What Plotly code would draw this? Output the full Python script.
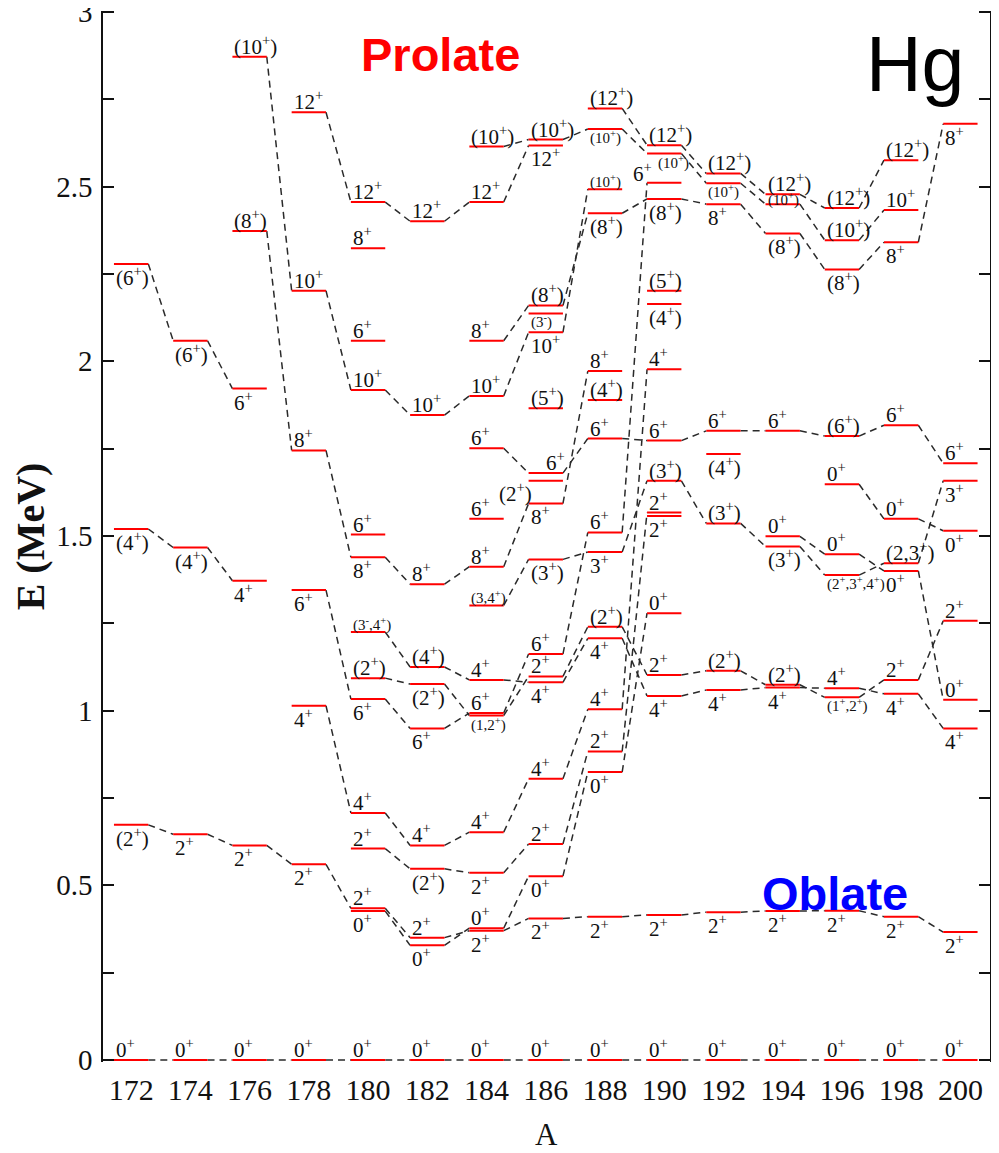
import plotly.graph_objects as go

# ---------------- data ----------------
# levels per isotope: (energy MeV, spin label, label placement)
hg172 = [(0.0, "0+", "a"), (0.673, "(2+)", "b"), (1.520, "(4+)", "b"), (2.279, "(6+)", "b")]
hg174 = [(0.0, "0+", "a"), (0.646, "2+", "b"), (1.467, "(4+)", "b"), (2.059, "(6+)", "b")]
hg176 = [(0.0, "0+", "a"), (0.614, "2+", "b"), (1.372, "4+", "b"), (1.922, "6+", "b"),
         (2.373, "(8+)", "a"), (2.872, "(10+)", "a")]
hg178 = [(0.0, "0+", "a"), (0.560, "2+", "b"), (1.014, "4+", "b"), (1.345, "6+", "b"),
         (1.745, "8+", "a"), (2.202, "10+", "a"), (2.713, "12+", "a")]
hg180 = [(0.0, "0+", "a"), (0.426, "0+", "b"), (0.434, "2+", "a"), (0.605, "2+", "a"),
         (0.707, "4+", "a"), (1.033, "6+", "b"), (1.093, "(2+)", "a"), (1.225, "(3-,4+)", "as"),
         (1.439, "8+", "b"), (1.504, "6+", "a"), (1.918, "10+", "a"), (2.059, "6+", "a"),
         (2.324, "8+", "a"), (2.456, "12+", "a")]
hg182 = [(0.0, "0+", "a"), (0.328, "0+", "b"), (0.350, "2+", "a"), (0.547, "(2+)", "b"),
         (0.614, "4+", "a"), (0.949, "6+", "b"), (1.076, "(2+)", "b"), (1.125, "(4+)", "a"),
         (1.362, "8+", "a"), (1.846, "10+", "a"), (2.401, "12+", "a")]
hg184 = [(0.0, "0+", "a"), (0.370, "2+", "b"), (0.377, "0+", "a"), (0.536, "2+", "b"),
         (0.652, "4+", "a"), (0.986, "(1,2+)", "bs"), (0.993, "6+", "a"), (1.088, "4+", "a"),
         (1.301, "(3,4+)", "as"), (1.412, "8+", "a"), (1.549, "6+", "a"), (1.751, "6+", "a"),
         (1.901, "10+", "a"), (2.059, "8+", "a"), (2.456, "12+", "a"), (2.615, "(10+)", "a")]
hg186 = [(0.0, "0+", "a"), (0.405, "2+", "b"), (0.526, "0+", "b"), (0.618, "2+", "a"),
         (0.805, "4+", "a"), (1.081, "4+", "b"), (1.098, "2+", "a"), (1.162, "6+", "a"),
         (1.433, "(3+)", "b"), (1.593, "8+", "b"), (1.658, "(2+)", "l"), (1.680, "6+", "ar"),
         (1.866, "(5+)", "a"), (2.083, "10+", "b"), (2.137, "(3-)", "bs"), (2.160, "(8+)", "a"),
         (2.618, "12+", "b"), (2.635, "(10+)", "a")]
hg188 = [(0.0, "0+", "a"), (0.410, "2+", "b"), (0.824, "0+", "b"), (0.883, "2+", "a"),
         (1.004, "4+", "a"), (1.207, "4+", "b"), (1.240, "(2+)", "a"), (1.454, "3+", "b"),
         (1.510, "6+", "a"), (1.779, "6+", "a"), (1.889, "(4+)", "a"), (1.972, "8+", "a"),
         (2.424, "(8+)", "b"), (2.493, "(10+)", "as"), (2.665, "(10+)", "bs"), (2.724, "(12+)", "a")]
hg190 = [(0.0, "0+", "a"), (0.415, "2+", "b"), (1.042, "4+", "b"), (1.102, "2+", "a"),
         (1.279, "0+", "a"), (1.557, "2+", "b"), (1.567, "2+", "a"), (1.658, "(3+)", "a"),
         (1.773, "6+", "a"), (1.977, "4+", "a"), (2.164, "(4+)", "b"), (2.202, "(5+)", "a"),
         (2.465, "(8+)", "b"), (2.511, "6+", "la"), (2.595, "(10+)", "bsr"), (2.619, "(12+)", "a")]
hg192 = [(0.0, "0+", "a"), (0.423, "2+", "b"), (1.059, "4+", "b"), (1.114, "(2+)", "a"),
         (1.536, "(3+)", "a"), (1.735, "(4+)", "b"), (1.801, "6+", "a"), (2.450, "8+", "b"),
         (2.510, "(10+)", "bs"), (2.538, "(12+)", "a")]
hg194 = [(0.0, "0+", "a"), (0.4265, "2+", "b"), (1.066, "4+", "b"), (1.074, "(2+)", "a"),
         (1.470, "(3+)", "b"), (1.499, "0+", "a"), (1.801, "6+", "a"), (2.366, "(8+)", "b"),
         (2.450, "(10+)", "os"), (2.478, "(12+)", "a")]
hg196 = [(0.0, "0+", "a"), (0.427, "2+", "b"), (1.038, "(1+,2+)", "bs"), (1.064, "4+", "a"),
         (1.388, "(2+,3+,4+)", "bs"), (1.448, "0+", "a"), (1.648, "0+", "a"), (1.786, "(6+)", "a"),
         (2.263, "(8+)", "b"), (2.347, "(10+)", "a"), (2.439, "(12+)", "a")]
hg198 = [(0.0, "0+", "a"), (0.410, "2+", "b"), (1.048, "4+", "b"), (1.088, "2+", "a"),
         (1.400, "0+", "b"), (1.422, "(2,3+)", "a"), (1.549, "0+", "a"), (1.817, "6+", "a"),
         (2.341, "8+", "b"), (2.433, "10+", "a"), (2.576, "(12+)", "a")]
hg200 = [(0.0, "0+", "a"), (0.366, "2+", "b"), (0.949, "4+", "b"), (1.031, "0+", "a"),
         (1.257, "2+", "a"), (1.515, "0+", "b"), (1.658, "3+", "b"), (1.708, "6+", "a"),
         (2.680, "8+", "b")]

isotopes = {172: hg172, 174: hg174, 176: hg176, 178: hg178, 180: hg180, 182: hg182,
            184: hg184, 186: hg186, 188: hg188, 190: hg190, 192: hg192, 194: hg194,
            196: hg196, 198: hg198, 200: hg200}

mass_numbers = [172, 174, 176, 178, 180, 182, 184, 186, 188, 190, 192, 194, 196, 198, 200]

# bands (sequences of (A, E) levels joined by dashed lines)
band_ground = [(a, 0.0) for a in mass_numbers]
band_2a = [(172, 0.673), (174, 0.646), (176, 0.614), (178, 0.560), (180, 0.434), (182, 0.350),
           (184, 0.370), (186, 0.405), (188, 0.410), (190, 0.415), (192, 0.423), (194, 0.4265),
           (196, 0.427), (198, 0.410), (200, 0.366)]
band_0p = [(180, 0.426), (182, 0.328), (184, 0.377), (186, 0.526), (188, 0.824), (190, 1.279)]
band_2p = [(180, 0.605), (182, 0.547), (184, 0.536), (186, 0.618), (188, 0.883), (190, 1.567)]
band_4p = [(178, 1.014), (180, 0.707), (182, 0.614), (184, 0.652), (186, 0.805), (188, 1.004), (190, 1.977)]
band_6p = [(178, 1.345), (180, 1.033), (182, 0.949), (184, 0.993), (186, 1.162), (188, 1.510), (190, 2.511)]
band_8p = [(176, 2.373), (178, 1.745), (180, 1.439), (182, 1.362), (184, 1.412), (186, 1.593), (188, 1.972)]
band_10p = [(176, 2.872), (178, 2.202), (180, 1.918), (182, 1.846), (184, 1.901), (186, 2.083), (188, 2.493)]
band_12p = [(178, 2.713), (180, 2.456), (182, 2.401), (184, 2.456), (186, 2.618)]
band_4l = [(172, 1.520), (174, 1.467), (176, 1.372)]
band_6l = [(172, 2.279), (174, 2.059), (176, 1.922)]
band_2o = [(180, 1.093), (182, 1.076), (184, 0.986), (186, 1.098), (188, 1.240), (190, 1.102),
           (192, 1.114), (194, 1.074), (196, 1.038), (198, 1.088), (200, 1.257)]
band_4o = [(180, 1.225), (182, 1.125), (184, 1.088), (186, 1.081), (188, 1.207), (190, 1.042),
           (192, 1.059), (194, 1.066), (196, 1.064), (198, 1.048), (200, 0.949)]
band_3o = [(184, 1.301), (186, 1.433), (188, 1.454), (190, 1.658), (192, 1.536), (194, 1.470),
           (196, 1.388), (198, 1.422), (200, 1.658)]
band_6o = [(184, 1.751), (186, 1.680), (188, 1.779), (190, 1.773), (192, 1.801), (194, 1.801),
           (196, 1.786), (198, 1.817), (200, 1.708)]
band_8o = [(184, 2.059), (186, 2.160), (188, 2.424), (190, 2.465), (192, 2.450), (194, 2.366),
           (196, 2.263), (198, 2.341), (200, 2.680)]
band_10o = [(184, 2.615), (186, 2.635), (188, 2.665), (190, 2.595), (192, 2.510), (194, 2.450),
            (196, 2.347), (198, 2.433)]
band_12o = [(188, 2.724), (190, 2.619), (192, 2.538), (194, 2.478), (196, 2.439), (198, 2.576)]
band_0a = [(194, 1.499), (196, 1.448), (198, 1.400), (200, 1.031)]
band_0b = [(196, 1.648), (198, 1.549), (200, 1.515)]

bands = [band_ground, band_2a, band_0p, band_2p, band_4p, band_6p, band_8p, band_10p, band_12p,
         band_4l, band_6l, band_2o, band_4o, band_3o, band_6o, band_8o, band_10o, band_12o,
         band_0a, band_0b]

y_tick_vals = [0, 0.25, 0.5, 0.75, 1, 1.25, 1.5, 1.75, 2, 2.25, 2.5, 2.75, 3]
y_tick_text = ["0", "", "0.5", "", "1", "", "1.5", "", "2", "", "2.5", "", "3"]

# ---------------- drawing ----------------
HW = 0.58  # half width of a level bar (A units)
SERIF = "Liberation Serif, Times New Roman, serif"
SANS = "Liberation Sans, Arial, sans-serif"

fig = go.Figure()

lx, ly = [], []
for band in bands:
    for (a1, e1), (a2, e2) in zip(band[:-1], band[1:]):
        lx += [a1 + HW, a2 - HW, None]
        ly += [e1, e2, None]
fig.add_trace(go.Scatter(x=lx, y=ly, mode="lines", hoverinfo="skip",
                         line=dict(color="#2a2a2a", width=1.5, dash="7px,5px")))

bx, by = [], []
for a, levels in isotopes.items():
    for e, lab, pos in levels:
        bx += [a - HW, a + HW, None]
        by += [e, e, None]
fig.add_trace(go.Scatter(x=bx, y=by, mode="lines", hoverinfo="skip",
                         line=dict(color="#ff0000", width=2)))


def fmt(lab):
    return lab.replace("+", "<sup>+</sup>").replace("-", "<sup>-</sup>")


annotations = []
for a, levels in isotopes.items():
    for e, lab, pos in levels:
        small = pos.endswith("s") or pos == "bsr"
        size = 15 if small else 21
        ann = dict(x=a - HW, y=e, text=fmt(lab), showarrow=False, borderpad=0,
                   font=dict(family=SERIF, size=size, color="#111111"),
                   xanchor="left", xshift=1)
        if pos.startswith("a"):
            ann.update(yanchor="bottom", yshift=-3)
        elif pos.startswith("b"):
            ann.update(yanchor="top", yshift=2)
        if pos == "ar":
            ann.update(xshift=16)
        if pos == "l":
            ann.update(xanchor="right", yanchor="top", xshift=4, yshift=3)
        if pos == "la":
            ann.update(xanchor="right", yanchor="bottom", xshift=6, yshift=-4)
        if pos == "bsr":
            ann.update(xshift=10)
        if pos == "os":
            ann.update(yanchor="middle", yshift=5)
        annotations.append(ann)

annotations += [
    dict(x=182.43, y=2.878, text="<b>Prolate</b>", showarrow=False, xanchor="center", yanchor="middle",
         font=dict(family=SANS, size=47, color="#ff0000")),
    dict(x=195.75, y=0.477, text="<b>Oblate</b>", showarrow=False, xanchor="center", yanchor="middle",
         font=dict(family=SANS, size=47, color="#0000ff")),
    dict(x=198.48, y=2.85, text="Hg", showarrow=False, xanchor="center", yanchor="middle",
         font=dict(family=SANS, size=77, color="#000000")),
    # x-axis title
    dict(x=0.5, xref="paper", y=-0.069, yref="paper", text="A", showarrow=False,
         xanchor="center", yanchor="middle",
         font=dict(family=SERIF, size=31, color="#111111")),
]

# the page body adds an 8 px offset; the figure is sized so the plot lands where the reference has it
fig.update_layout(
    width=983, height=1137,
    margin=dict(l=95, r=1, t=3, b=83),
    paper_bgcolor="white", plot_bgcolor="white",
    showlegend=False,
    annotations=annotations,
    xaxis=dict(range=[171.05, 201.0], tickvals=mass_numbers, ticktext=[str(a) for a in mass_numbers],
               showgrid=False, zeroline=False, showline=False, ticks="", automargin=False,
               tickfont=dict(family=SERIF, size=30, color="#111111"), ticklabelstandoff=7),
    yaxis=dict(range=[-0.006, 3.003], tickvals=y_tick_vals, ticktext=y_tick_text,
               showgrid=False, zeroline=False, showline=True, linecolor="#111111", linewidth=1.5,
               mirror="ticks", ticks="inside", ticklen=11, tickwidth=1.5, tickcolor="#111111",
               automargin=False, ticklabeloverflow="allow",
               tickfont=dict(family=SERIF, size=29, color="#111111"), ticklabelstandoff=3,
               title=dict(text="<b>E (MeV)</b>", font=dict(family=SERIF, size=40, color="#111111"),
                          standoff=8)),
)

fig.write_html("out.html")
